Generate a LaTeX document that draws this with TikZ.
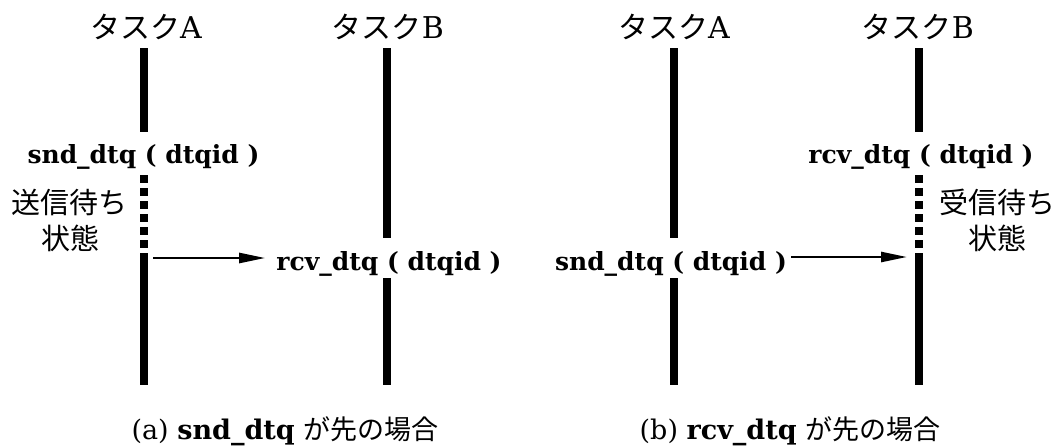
\documentclass[tikz,border=0pt]{standalone}
\usepackage{fontspec}
\setmainfont{DejaVu Serif}
\newfontfamily\jp{Noto Sans CJK JP}
\usetikzlibrary{arrows.meta}
\tikzset{
  life/.style={line width=8pt},
  wait/.style={line width=8pt, dash pattern=on 8pt off 5pt},
  msg/.style={line width=2.5pt, -{Triangle[length=26pt,width=10pt]}},
  call/.style={font=\fontsize{25}{27}\selectfont\bfseries, inner sep=0pt, anchor=base},
  title/.style={font=\fontsize{30}{32}\selectfont, inner sep=0pt, anchor=base},
  state/.style={font=\jp\fontsize{29}{36}\selectfont, align=center, inner sep=0pt},
  capt/.style={font=\fontsize{27}{29}\selectfont, inner sep=0pt, anchor=base},
}
\begin{document}
\begin{tikzpicture}[x=1pt,y=-1pt]
\useasboundingbox (0,0) rectangle (1058,445);
% titles
\node[title] (tA1) at (146,38) {{\jp タスク}A};
\node[title] (tB1) at (388,38) {{\jp タスク}B};
\node[title] (tA2) at (674,38) {{\jp タスク}A};
\node[title] (tB2) at (918,38) {{\jp タスク}B};
% (a)
\coordinate (a1t) at (143.5,48);
\coordinate (a1s) at (143.5,132);
\coordinate (a1d) at (143.5,175);
\coordinate (a1e) at (143.5,250);
\coordinate (a1r) at (143.5,253);
\coordinate (a1b) at (143.5,385);
\draw[life] (a1t) -- (a1s);
\draw[wait] (a1d) -- (a1e);
\draw[life] (a1r) -- (a1b);
\node[call] (snd1) at (143.5,163) {snd\_dtq ( dtqid )};
\node[state] (st1) at (70,220) {送信待ち\\状態};
\coordinate (b1t) at (387,48);
\coordinate (b1m) at (387,238);
\coordinate (b1n) at (387,278);
\coordinate (b1b) at (387,385);
\draw[life] (b1t) -- (b1m);
\draw[life] (b1n) -- (b1b);
\node[call] (rcv1) at (389,270) {rcv\_dtq ( dtqid )};
\coordinate (m1) at (153,258);
\draw[msg] (m1) -- ([xshift=-11pt]rcv1.west |- m1);
% (b)
\coordinate (a2t) at (674,48);
\coordinate (a2m) at (674,238);
\coordinate (a2n) at (674,278);
\coordinate (a2b) at (674,385);
\draw[life] (a2t) -- (a2m);
\draw[life] (a2n) -- (a2b);
\node[call] (snd2) at (671,270) {snd\_dtq ( dtqid )};
\coordinate (b2t) at (919,48);
\coordinate (b2s) at (919,132);
\coordinate (b2d) at (919,175);
\coordinate (b2e) at (919,250);
\coordinate (b2r) at (919,253);
\coordinate (b2b) at (919,385);
\draw[life] (b2t) -- (b2s);
\draw[wait] (b2d) -- (b2e);
\draw[life] (b2r) -- (b2b);
\node[call] (rcv2) at (921,163) {rcv\_dtq ( dtqid )};
\node[state] (st2) at (997,220) {受信待ち\\状態};
\coordinate (m2) at (907,257);
\draw[msg] ([xshift=4pt]snd2.east |- m2) -- (m2);
% captions
\node[capt] (ca) at (285,439) {(a) \textbf{snd\_dtq} {\jp が先の場合}};
\node[capt] (cb) at (790,439) {(b) \textbf{rcv\_dtq} {\jp が先の場合}};
\end{tikzpicture}
\end{document}
